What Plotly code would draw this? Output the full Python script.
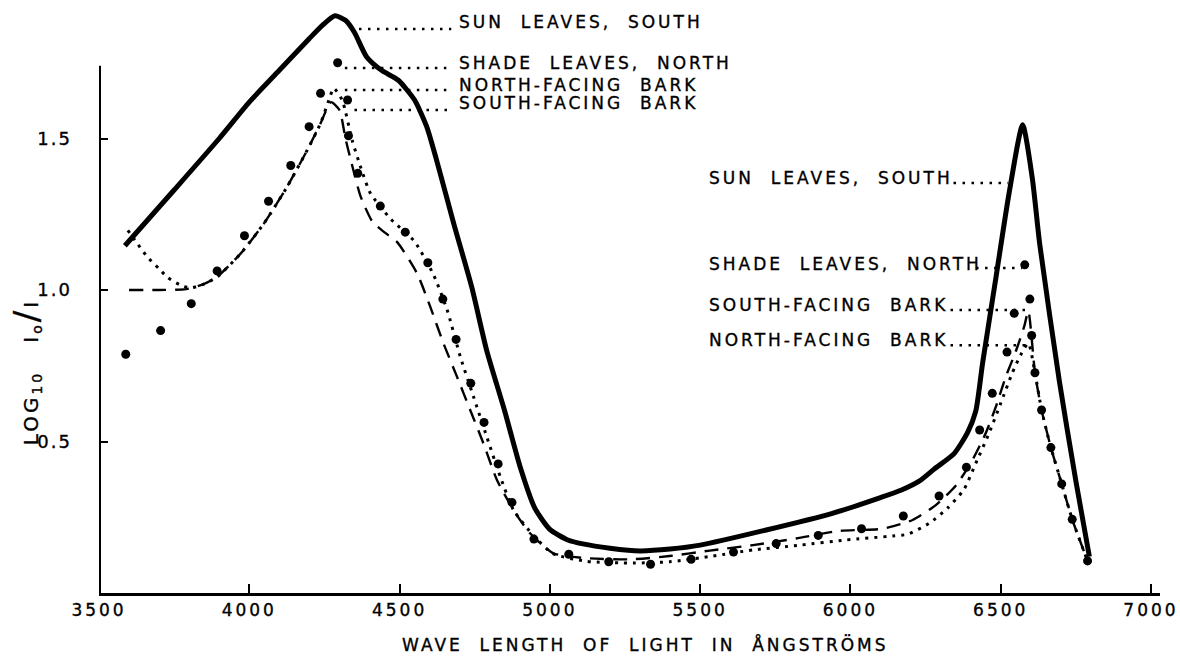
import plotly.graph_objects as go

# ---------------- data ----------------
sun_x = [3586, 3750, 3900, 4000, 4100, 4200, 4245, 4285, 4320, 4350, 4390, 4440, 4495, 4550,
         4590, 4620, 4680, 4740, 4790, 4850, 4900, 4950, 5000, 5060, 5110, 5200, 5300, 5400,
         5500, 5720, 5940, 6100, 6170, 6230, 6280, 6345, 6390, 6417, 6440, 6484, 6528, 6573,
         6605, 6630, 6695, 6750, 6795]
sun_y = [1.146, 1.33, 1.50, 1.62, 1.725, 1.83, 1.875, 1.905, 1.89, 1.85, 1.77, 1.725, 1.693, 1.627,
         1.54, 1.44, 1.22, 1.01, 0.80, 0.60, 0.42, 0.28, 0.21, 0.175, 0.162, 0.148, 0.139, 0.145,
         0.158, 0.208, 0.263, 0.315, 0.34, 0.37, 0.41, 0.46, 0.53, 0.60, 0.76, 1.04, 1.32, 1.545,
         1.37, 1.15, 0.70, 0.37, 0.12]

shade_x = [3589, 3705, 3807, 3893, 3984, 4064, 4138, 4199, 4237, 4294, 4327, 4330, 4361, 4436,
           4519, 4594, 4644, 4688, 4737, 4781, 4828, 4874, 4947, 5063, 5196, 5335, 5470, 5611,
           5753, 5893, 6037, 6176, 6295, 6386, 6430, 6472, 6521, 6545, 6580, 6597, 6603, 6614,
           6636, 6667, 6703, 6738, 6789]
shade_y = [0.788, 0.866, 0.955, 1.063, 1.179, 1.293, 1.411, 1.539, 1.649, 1.75, 1.627, 1.509, 1.385, 1.277,
           1.191, 1.09, 0.97, 0.837, 0.692, 0.563, 0.426, 0.299, 0.178, 0.128, 0.103, 0.095, 0.111, 0.135,
           0.163, 0.19, 0.212, 0.254, 0.32, 0.415, 0.538, 0.659, 0.795, 0.923, 1.083, 0.97, 0.85, 0.727,
           0.604, 0.48, 0.36, 0.243, 0.106]

north_x = [3596, 3630, 3660, 3700, 3730, 3780, 3810, 3850, 3894, 3971, 4049, 4126, 4193, 4237,
           4265, 4281, 4309, 4342, 4370, 4403, 4469, 4550, 4613, 4658, 4702, 4746, 4790, 4835,
           4879, 4945, 5010, 5120, 5278, 5399, 5543, 5676, 5833, 5986, 6141, 6190, 6262, 6323,
           6378, 6417, 6461, 6500, 6538, 6566, 6592, 6614, 6636, 6667, 6703, 6738, 6789]
north_y = [1.197, 1.15, 1.11, 1.07, 1.04, 1.012, 1.008, 1.02, 1.044, 1.12, 1.22, 1.341, 1.462, 1.55,
           1.627, 1.666, 1.627, 1.495, 1.407, 1.319, 1.236, 1.16, 1.05, 0.935, 0.78, 0.648, 0.516, 0.384,
           0.274, 0.19, 0.13, 0.105, 0.099, 0.103, 0.122, 0.142, 0.158, 0.175, 0.188, 0.194, 0.23, 0.28,
           0.342, 0.428, 0.527, 0.626, 0.725, 0.785, 0.824, 0.727, 0.604, 0.48, 0.36, 0.243, 0.106]

south_x = [3600, 3700, 3790, 3850, 3894, 3971, 4049, 4126, 4193, 4237, 4272, 4300, 4320, 4340,
           4370, 4410, 4450, 4492, 4558, 4602, 4646, 4691, 4735, 4779, 4824, 4879, 4934, 5012,
           5122, 5266, 5399, 5532, 5676, 5819, 5963, 6107, 6207, 6284, 6352, 6406, 6450, 6484,
           6517, 6550, 6578, 6592, 6614, 6636, 6667, 6703, 6738, 6789]
south_y = [1.00, 1.00, 1.003, 1.02, 1.044, 1.12, 1.22, 1.341, 1.462, 1.55, 1.62, 1.594, 1.50, 1.42,
           1.31, 1.225, 1.19, 1.158, 1.055, 0.945, 0.824, 0.714, 0.604, 0.494, 0.373, 0.274, 0.197, 0.131,
           0.115, 0.111, 0.122, 0.14, 0.158, 0.18, 0.205, 0.212, 0.241, 0.29, 0.356, 0.439, 0.527, 0.615,
           0.714, 0.797, 0.879, 0.93, 0.727, 0.604, 0.48, 0.36, 0.243, 0.106]

x_ticks = [3500, 4000, 4500, 5000, 5500, 6000, 6500, 7000]
y_ticks = [0.5, 1.0, 1.5]
y_tick_text = ["0.5", "1.0", "1.5"]

labels_left = ["SUN  LEAVES,  SOUTH", "SHADE  LEAVES,  NORTH", "NORTH-FACING  BARK", "SOUTH-FACING  BARK"]
labels_right = ["SUN  LEAVES,  SOUTH", "SHADE  LEAVES,  NORTH", "SOUTH-FACING  BARK", "NORTH-FACING  BARK"]

# ---------------- placement (not data) ----------------
left_text_x = 4690
left_text_y = [1.884, 1.749, 1.677, 1.617]
left_leaders = [(4365, 4672, 1.861), (4318, 4672, 1.733), (4318, 4672, 1.660), (4350, 4672, 1.594)]
right_text_x = 5522
right_text_y = [1.370, 1.086, 0.950, 0.835]
right_leaders = [(6343, 6525, 1.353), (6418, 6571, 1.073), (6333, 6588, 0.934), (6333, 6598, 0.818)]

FONT = "DejaVu Sans"
fig = go.Figure()

fig.add_trace(go.Scatter(x=north_x, y=north_y, mode="lines", name="North-facing bark",
                         line=dict(color="black", width=3, dash="3px,6px", shape="spline", smoothing=0.6)))
fig.add_trace(go.Scatter(x=south_x, y=south_y, mode="lines", name="South-facing bark",
                         line=dict(color="black", width=2.4, dash="14px,9px", shape="spline", smoothing=0.6)))
fig.add_trace(go.Scatter(x=sun_x, y=sun_y, mode="lines", name="Sun leaves, south",
                         line=dict(color="black", width=5, shape="spline", smoothing=0.6)))
fig.add_trace(go.Scatter(x=shade_x, y=shade_y, mode="markers", name="Shade leaves, north",
                         marker=dict(color="black", size=9), cliponaxis=False))

shapes = []
shapes.append(dict(type="line", xref="x", yref="y", x0=3500, x1=3500, y0=0, y1=1.74,
                   line=dict(color="black", width=4)))
for (x0, x1, y) in left_leaders + right_leaders:
    shapes.append(dict(type="line", xref="x", yref="y", x0=x0, x1=x1, y0=y, y1=y,
                       line=dict(color="black", width=2.5, dash="2.5px,6.5px")))

annotations = []
for t, y in zip(labels_left, left_text_y):
    annotations.append(dict(x=left_text_x, y=y, xref="x", yref="y", text=t, showarrow=False,
                            xanchor="left", yanchor="middle", align="left",
                            font=dict(family=FONT, size=17, color="black")))
for t, y in zip(labels_right, right_text_y):
    annotations.append(dict(x=right_text_x, y=y, xref="x", yref="y", text=t, showarrow=False,
                            xanchor="left", yanchor="middle", align="left",
                            font=dict(family=FONT, size=17, color="black")))
annotations.append(dict(x=0.515, y=-0.088, xref="paper", yref="paper",
                        text="WAVE  LENGTH  OF  LIGHT  IN  ÅNGSTRÖMS", showarrow=False,
                        xanchor="center", yanchor="middle",
                        font=dict(family=FONT, size=17, color="black")))
annotations.append(dict(x=-0.069, y=0.375, xref="paper", yref="paper", textangle=-90,
                        text="LOG<sub>10</sub>   I<sub>o</sub><span style='font-size:34px'>/</span>I",
                        showarrow=False, xanchor="center", yanchor="middle",
                        font=dict(family=FONT, size=20, color="black")))

fig.update_layout(
    width=1180, height=660,
    margin=dict(l=99, r=20, t=5, b=67),
    paper_bgcolor="white", plot_bgcolor="white",
    showlegend=False,
    shapes=shapes, annotations=annotations,
    xaxis=dict(range=[3500, 7030], tickvals=x_ticks, ticktext=[str(v) for v in x_ticks],
               ticks="inside", ticklen=9, tickwidth=2, tickcolor="black", automargin=False,
               showline=True, linewidth=3, linecolor="black", showgrid=False, zeroline=False,
               tickfont=dict(family=FONT, size=17, color="black")),
    yaxis=dict(range=[0, 1.9406], tickvals=y_ticks, ticktext=y_tick_text, automargin=False,
               ticks="inside", ticklen=9, tickwidth=2, tickcolor="black",
               showline=False, showgrid=False, zeroline=False, ticklabelstandoff=26,
               tickfont=dict(family=FONT, size=18, color="black")),
)

post = """
document.body.style.margin = '0px';
var gd = document.getElementById('{plot_id}');
function heavy(e, sp){ e.style.letterSpacing = sp; e.style.stroke = 'black'; e.style.strokeWidth = '0.35px'; }
gd.querySelectorAll('.annotation-text').forEach(function(e){ heavy(e, '3px'); });
gd.querySelectorAll('.xtick text').forEach(function(e){ heavy(e, '3px'); });
gd.querySelectorAll('.ytick text').forEach(function(e){ heavy(e, '2px'); });
"""
fig.write_html("out.html", post_script=post, config={"displayModeBar": False})
